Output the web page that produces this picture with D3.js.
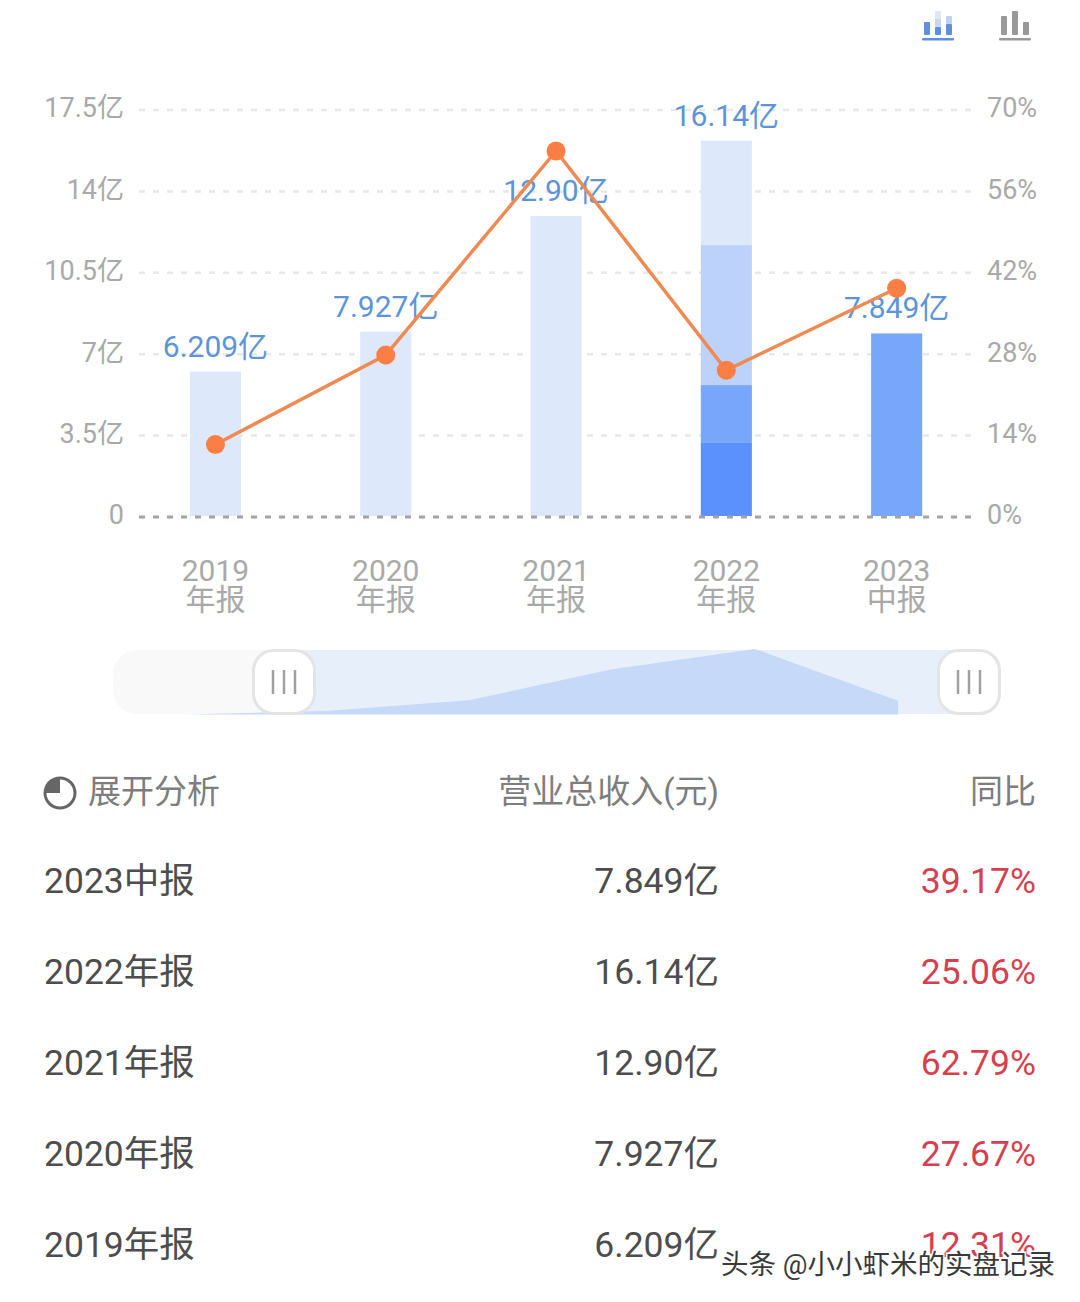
<!DOCTYPE html>
<html><head><meta charset="utf-8">
<script src="https://cdn.jsdelivr.net/npm/d3@7/dist/d3.min.js"></script>
<style>
html,body{margin:0;padding:0;background:#fff;}
svg{display:block;}
text{font-family:Roboto,"Noto Sans CJK SC",sans-serif;}
</style></head><body>
<svg id="c" width="1080" height="1302"></svg>
<script>
const years = ["2019","2020","2021","2022","2023"];
const periods = ["年报","年报","年报","年报","中报"];
const revenue = [6.209,7.927,12.90,16.14,7.849];
const revenueLabels = ["6.209亿","7.927亿","12.90亿","16.14亿","7.849亿"];
const growth = [12.31,27.67,62.79,25.06,39.17];
const stack2022 = [3.14,2.49,6.02,4.49];
const stack2022Colors = ["#5a91fd","#78a6fb","#bcd2fb","#dde8fb"];
const leftTicks = [0,3.5,7,10.5,14,17.5];
const rightTicks = [0,14,28,42,56,70];
const miniValues = [5.66,6.209,7.927,12.90,16.14,7.849];
const tableRows = ["2023中报","2022年报","2021年报","2020年报","2019年报"];
const tableRevenue = ["7.849亿","16.14亿","12.90亿","7.927亿","6.209亿"];
const tableGrowth = ["39.17%","25.06%","62.79%","27.67%","12.31%"];
const tableHeaders = ["展开分析","营业总收入(元)","同比"];
const watermark = "头条 @小小虾米的实盘记录";

const svg = d3.select("#c");
const F = 'Roboto,"Noto Sans CJK SC",sans-serif';
const x = d3.scaleBand().domain(years).range([130.3,981.8]).paddingInner(0.7).paddingOuter(0.35);
const xc = d => x(d)+x.bandwidth()/2;
const y = d3.scaleLinear().domain([0,17.5]).range([516,109]);
const yR = d3.scaleLinear().domain([0,70]).range([516,109]);

// grid
svg.append("g").selectAll("line").data(leftTicks.slice(1)).join("line")
  .attr("x1",139).attr("x2",972).attr("y1",d=>y(d)+1).attr("y2",d=>y(d)+1)
  .attr("stroke","#e8e8e8").attr("stroke-width",2.5).attr("stroke-dasharray","6 8");

// axes
const fmtL = d => d===0 ? "0" : d+"亿";
const gL = svg.append("g").attr("transform","translate(124,0)")
  .call(d3.axisLeft(y).tickValues(leftTicks).tickFormat(fmtL).tickSize(0).tickPadding(0));
const gR = svg.append("g").attr("transform","translate(987,0)")
  .call(d3.axisRight(yR).tickValues(rightTicks).tickFormat(d=>d+"%").tickSize(0).tickPadding(0));
[gL,gR].forEach(g=>{
  g.select(".domain").remove();
  g.selectAll("text").attr("font-size",27).attr("fill","#a9a9a9").attr("font-family",F).attr("dy","0.29em");
});
const gX = svg.append("g").attr("transform","translate(0,516)")
  .call(d3.axisBottom(x).tickSize(0).tickPadding(0));
gX.select(".domain").remove();
gX.selectAll("text").each(function(d,i){
  const t=d3.select(this).text(null).attr("y",0).attr("dy",null).attr("font-family",F)
    .attr("font-size",30).attr("fill","#a9a9a9").attr("text-anchor","middle");
  t.append("tspan").attr("x",0).attr("y",65).text(d);
  t.append("tspan").attr("x",0).attr("y",94).text(periods[i]);
});

// bars
const barColor = i => i===4 ? "#78a6fb" : "#dde8fb";
svg.append("g").selectAll("rect").data(years.map((d,i)=>({d,i})).filter(o=>o.d!=="2022")).join("rect")
  .attr("x",o=>x(o.d)).attr("width",x.bandwidth())
  .attr("y",o=>y(revenue[o.i])).attr("height",o=>y(0)-y(revenue[o.i]))
  .attr("fill",o=>barColor(o.i));
const stackEnds = d3.cumsum(stack2022);
svg.append("g").selectAll("rect").data(stack2022).join("rect")
  .attr("x",x("2022")).attr("width",x.bandwidth())
  .attr("y",(d,i)=>y(stackEnds[i])).attr("height",d=>y(0)-y(d))
  .attr("fill",(d,i)=>stack2022Colors[i]);

// baseline
svg.append("line").attr("x1",139).attr("x2",972).attr("y1",y(0)+1).attr("y2",y(0)+1)
  .attr("stroke","#a3a3a3").attr("stroke-width",3).attr("stroke-dasharray","6 8");

// bar labels
svg.append("g").selectAll("text").data(years).join("text")
  .attr("x",d=>xc(d)).attr("y",(d,i)=>y(revenue[i])-15)
  .attr("text-anchor","middle").attr("font-size",30).attr("fill","#5c94d8")
  .text((d,i)=>revenueLabels[i]);

// line
const line = d3.line().x((d,i)=>xc(years[i])).y(d=>yR(d));
svg.append("path").attr("d",line(growth)).attr("fill","none")
  .attr("stroke","#ee8a52").attr("stroke-width",3.5);
svg.append("g").selectAll("circle").data(growth).join("circle")
  .attr("cx",(d,i)=>xc(years[i])).attr("cy",d=>yR(d)).attr("r",9.5).attr("fill","#fb7f45");

// icons
const icon = svg.append("g");
function bar(x0,w,y0,y1,c){icon.append("rect").attr("x",x0).attr("y",y0).attr("width",w).attr("height",y1-y0).attr("fill",c).attr("rx",1);}
bar(924,6,22,35,"#5f90e0");
bar(935,6,11,20,"#e0e6ef");bar(935,6,19,27,"#c6d7f0");bar(935,6,27,35,"#5f90e0");
bar(946,6,16,24,"#bcd2f5");bar(946,6,24,35,"#5f90e0");
bar(922,32,38,40.5,"#5f90e0");
bar(1001,6,16,35,"#999");bar(1012,6,11,35,"#999");bar(1023,6,22,35,"#999");
bar(999,32,38,40.5,"#999");

// slider
const sl = svg.append("g");
sl.append("rect").attr("x",113).attr("y",650).attr("width",887).attr("height",64).attr("rx",24).attr("fill","#f9f9f9");
sl.append("rect").attr("x",284).attr("y",650).attr("width",690).attr("height",64).attr("fill","#e7effb");
const mx = d3.scalePoint().domain(d3.range(miniValues.length)).range([183,898]);
const my = d3.scaleLinear().domain([5.66,16.14]).range([714.5,649]);
const area = d3.area().x((d,i)=>mx(i)).y0(714.5).y1(d=>my(d));
sl.append("path").attr("d",area(miniValues)).attr("fill","#c6d9f8");
[284,969].forEach(cx=>{
  sl.append("rect").attr("x",cx-30.5).attr("y",650.5).attr("width",61).attr("height",63).attr("rx",20)
    .attr("fill","#fff").attr("stroke","#e4e4e4").attr("stroke-width",3);
  [-11,0,11].forEach(dx=>sl.append("line").attr("x1",cx+dx).attr("x2",cx+dx).attr("y1",670).attr("y2",694)
    .attr("stroke","#a0a0a0").attr("stroke-width",2.5));
});

// table header
const pie = svg.append("g").attr("transform","translate(60,793)");
pie.append("path").attr("d",d3.arc()({innerRadius:13.5,outerRadius:16.5,startAngle:0,endAngle:Math.PI*1.5})).attr("fill","#666");
pie.append("path").attr("d",d3.arc()({innerRadius:0,outerRadius:16.5,startAngle:-Math.PI/2,endAngle:0})).attr("fill","#666");
const hdr = svg.append("g").attr("font-size",33).attr("fill","#7d7d7d");
hdr.append("text").attr("x",88).attr("y",803).text(tableHeaders[0]);
hdr.append("text").attr("x",719).attr("y",803).attr("text-anchor","end").text(tableHeaders[1]);
hdr.append("text").attr("x",1036).attr("y",803).attr("text-anchor","end").text(tableHeaders[2]);

// table rows
const rowY = d3.scalePoint().domain(tableRows).range([880,1244]);
const rows = svg.append("g").selectAll("g").data(tableRows).join("g")
  .attr("transform",d=>`translate(0,${rowY(d)+13})`).attr("font-size",35.5);
rows.append("text").attr("x",44).attr("fill","#4d4d4d").text(d=>d);
rows.append("text").attr("x",719).attr("text-anchor","end").attr("fill","#4d4d4d").text((d,i)=>tableRevenue[i]);
rows.append("text").attr("x",1036).attr("text-anchor","end").attr("fill","#d5404f").text((d,i)=>tableGrowth[i]);

// watermark
svg.append("text").attr("x",721).attr("y",1274).attr("font-size",27.5).attr("fill","#3a3a3a")
  .attr("stroke","#fff").attr("stroke-width",3).attr("paint-order","stroke")
  .text(watermark);
</script>
</body></html>
